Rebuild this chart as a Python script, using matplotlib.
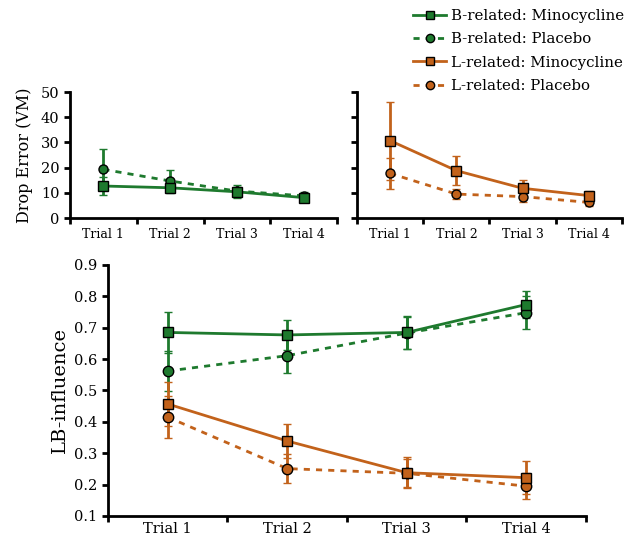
import numpy as np
import matplotlib
matplotlib.use('Agg')
import matplotlib.pyplot as plt
from matplotlib.lines import Line2D

plt.rcParams['font.family'] = ['DejaVu Serif']

trials = ['Trial 1', 'Trial 2', 'Trial 3', 'Trial 4']

# drop error (VM)
b_mino_err = [12.7, 12.0, 10.4, 8.1]
b_mino_sem = [3.4, 2.0, 2.0, 1.5]
b_plac_err = [19.3, 14.7, 10.7, 8.8]
b_plac_sem = [8.2, 4.4, 2.6, 1.6]
l_mino_err = [30.7, 18.8, 11.8, 8.9]
l_mino_sem = [15.5, 5.8, 3.3, 2.0]
l_plac_err = [17.7, 9.5, 8.5, 6.2]
l_plac_sem = [6.0, 2.0, 2.0, 1.5]

# LB-influence
b_mino_lb = [0.685, 0.677, 0.685, 0.774]
b_mino_lb_sem = [0.064, 0.049, 0.052, 0.043]
b_plac_lb = [0.562, 0.611, 0.683, 0.748]
b_plac_lb_sem = [0.065, 0.056, 0.05, 0.052]
l_mino_lb = [0.457, 0.339, 0.238, 0.222]
l_mino_lb_sem = [0.07, 0.055, 0.05, 0.052]
l_plac_lb = [0.415, 0.251, 0.236, 0.195]
l_plac_lb_sem = [0.067, 0.045, 0.045, 0.042]

green = '#1e7a2e'
orange = '#c2621b'
dash = (0, (2.2, 2.2))

fig = plt.figure(figsize=(6.33, 5.39), dpi=100)
ax1 = fig.add_axes([0.1106, 0.5955, 0.4218, 0.2338])
ax2 = fig.add_axes([0.564, 0.5955, 0.4186, 0.2338])
ax3 = fig.add_axes([0.1706, 0.0427, 0.755, 0.4657])

x = np.arange(len(trials))


def serie(ax, y, e, col, ls, mk, ms):
    ax.errorbar(x, y, yerr=e, color=col, ls=ls, lw=2, marker=mk, ms=ms,
                mfc=col, mec='black', mew=1, ecolor=col, elinewidth=2,
                capsize=3, capthick=2)


def estilo(ax, fs, yfs, pad):
    for s in ['top', 'right']:
        ax.spines[s].set_visible(False)
    for s in ['left', 'bottom']:
        ax.spines[s].set_linewidth(2)
    ax.set_xlim(-0.5, 3.5)
    ax.set_xticks(np.arange(-0.5, 4, 1))
    ax.set_xticklabels([])
    ax.set_xticks(x, minor=True)
    ax.set_xticklabels(trials, minor=True, fontsize=fs)
    ax.tick_params(axis='x', which='minor', length=0, pad=pad)
    ax.tick_params(axis='both', which='major', width=2, length=4, direction='out')
    ax.tick_params(axis='y', labelsize=yfs)


serie(ax1, b_plac_err, b_plac_sem, green, dash, 'o', 6.5)
serie(ax1, b_mino_err, b_mino_sem, green, '-', 's', 6.5)
ax1.set_ylim(0, 50)
ax1.set_yticks([0, 10, 20, 30, 40, 50])
estilo(ax1, 9, 10.5, 7)
ax1.set_ylabel('Drop Error (VM)', fontsize=11.5, labelpad=6)

serie(ax2, l_plac_err, l_plac_sem, orange, dash, 'o', 6.5)
serie(ax2, l_mino_err, l_mino_sem, orange, '-', 's', 6.5)
ax2.set_ylim(0, 50)
ax2.set_yticks([0, 10, 20, 30, 40, 50])
estilo(ax2, 9, 10.5, 7)
ax2.set_yticklabels([])

serie(ax3, b_plac_lb, b_plac_lb_sem, green, dash, 'o', 7.5)
serie(ax3, b_mino_lb, b_mino_lb_sem, green, '-', 's', 7.5)
serie(ax3, l_plac_lb, l_plac_lb_sem, orange, dash, 'o', 7.5)
serie(ax3, l_mino_lb, l_mino_lb_sem, orange, '-', 's', 7.5)
ax3.set_ylim(0.1, 0.9)
ax3.set_yticks(np.arange(0.1, 0.91, 0.1))
ax3.set_yticklabels(['%.1f' % v for v in np.arange(0.1, 0.91, 0.1)])
estilo(ax3, 10.5, 10.5, 4)
ax3.set_ylabel('LB-influence', fontsize=14)

handles = [
    Line2D([], [], color=green, lw=2, marker='s', ms=6, mfc=green, mec='black'),
    Line2D([], [], color=green, lw=2, ls=dash, marker='o', ms=6, mfc=green, mec='black'),
    Line2D([], [], color=orange, lw=2, marker='s', ms=6, mfc=orange, mec='black'),
    Line2D([], [], color=orange, lw=2, ls=dash, marker='o', ms=6, mfc=orange, mec='black'),
]
labels = ['B-related: Minocycline', 'B-related: Placebo',
          'L-related: Minocycline', 'L-related: Placebo']
fig.legend(handles, labels, loc='upper right', bbox_to_anchor=(1.0, 1.0),
           frameon=False, fontsize=10.8, handlelength=2.2, handletextpad=0.3,
           labelspacing=0.62, borderaxespad=0.2)

fig.savefig('out.png', dpi=100)
